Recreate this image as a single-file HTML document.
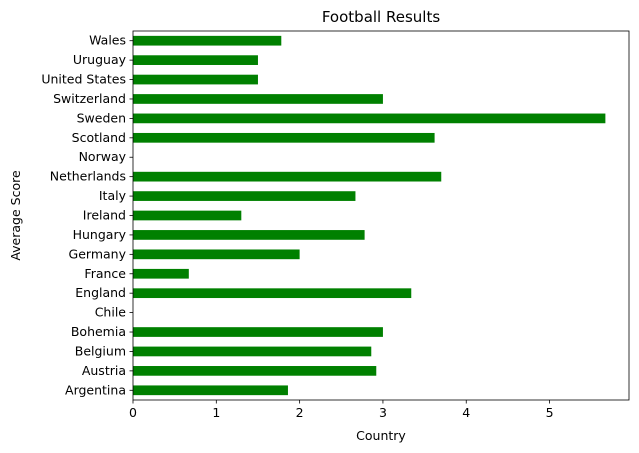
<!DOCTYPE html>
<html><head><meta charset="utf-8"><style>
body{margin:0;background:#fff;}
svg{display:block;font-family:"DejaVu Sans","Liberation Sans",sans-serif;}
</style></head><body>
<svg id="chart" width="639" height="453"></svg>
<script>
const categories=["Argentina","Austria","Belgium","Bohemia","Chile","England","France","Germany","Hungary","Ireland","Italy","Netherlands","Norway","Scotland","Sweden","Switzerland","United States","Uruguay","Wales"];
const values=[1.86,2.92,2.86,3.0,0,3.34,0.67,2.0,2.78,1.3,2.67,3.7,0,3.62,5.67,3.0,1.5,1.5,1.78];
const xTicks=[0,1,2,3,4,5];
const NS="http://www.w3.org/2000/svg";
const svg=document.getElementById('chart');
const L=133,R=629,T=31,B=400;
const xmax=Math.max(...values)*1.05;
const x=v=>L+v/xmax*(R-L);
const n=categories.length;
const y=i=>B-(i+0.5)/n*(B-T);
const bh=0.5/n*(B-T);
function mk(tag,attrs,text){const e=document.createElementNS(NS,tag);for(const k in attrs)e.setAttribute(k,attrs[k]);if(text!==undefined)e.textContent=text;svg.appendChild(e);return e;}
values.forEach((v,i)=>{
  const r=mk('rect',{x:L,y:y(i)-bh/2,width:x(v)-L,height:bh,fill:'#008000'});
  
  
  const t=mk('line',{x1:L-3.5,x2:L,y1:y(i),y2:y(i),stroke:'#000','stroke-width':0.8});
  
  
  const lb=mk('text',{x:L-7,y:y(i)+4,'text-anchor':'end','font-size':'12.5'},categories[i]);
  
  
});
xTicks.forEach(v=>{
  const t=mk('line',{x1:x(v),x2:x(v),y1:B,y2:B+3.5,stroke:'#000','stroke-width':0.8});
  
  
  const lb=mk('text',{x:x(v),y:B+17,'text-anchor':'middle','font-size':'12.5'},String(v));
  
  
});
const fr=mk('rect',{x:L,y:T,width:R-L,height:B-T,fill:'none',stroke:'#000','stroke-width':0.8});


const tt=mk('text',{x:(L+R)/2,y:T-9,'text-anchor':'middle','font-size':'15'},'Football Results');


const xl=mk('text',{x:(L+R)/2,y:B+40,'text-anchor':'middle','font-size':'12.5'},'Country');


const yl=mk('text',{x:0,y:0,'text-anchor':'middle','font-size':'12.5',transform:`translate(20,${(T+B)/2}) rotate(-90)`},'Average Score');


</script>
</body></html>
